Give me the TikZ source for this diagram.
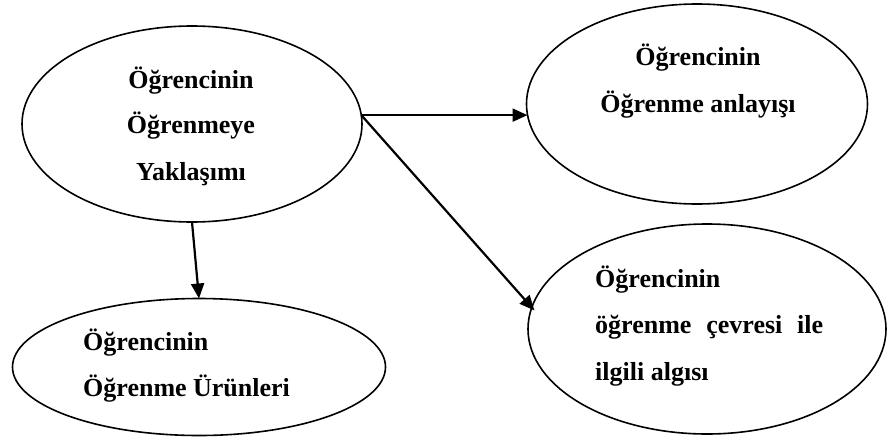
\documentclass[tikz,border=0pt]{standalone}
\usepackage{fontspec}
\setmainfont{Liberation Serif}
\usetikzlibrary{shapes.geometric,arrows.meta}

\tikzset{
  oval/.style={draw=black, line width=1.6pt, ellipse, inner sep=0pt, outer sep=0pt},
  txt/.style={inner sep=0pt, font=\fontsize{26}{30}\selectfont\bfseries},
  link/.style={line width=2.2pt, -{Triangle[length=15pt,width=13pt]}},
}

\begin{document}
\begin{tikzpicture}[x=1pt, y=-1pt]
  \useasboundingbox (0,0) rectangle (889,437);

  % the four concepts
  \node[oval, minimum width=340pt, minimum height=196pt] (e1) at (192,124) {};
  \node[oval, minimum width=341pt, minimum height=200pt] (e2) at (697,104) {};
  \node[oval, minimum width=373pt, minimum height=137pt] (e3) at (199,367) {};
  \node[oval, minimum width=358pt, minimum height=210pt] (e4) at (707,329) {};

  % labels, one line per node
  \node[txt, anchor=base] (t1a) at (191,88)  {Öğrencinin};
  \node[txt, anchor=base] (t1b) at (191,133) {Öğrenmeye};
  \node[txt, anchor=base] (t1c) at (191,180) {Yaklaşımı};

  \node[txt, anchor=base] (t2a) at (698,65)  {Öğrencinin};
  \node[txt, anchor=base] (t2b) at (698,112) {Öğrenme anlayışı};

  \node[txt, anchor=base west] (t3a) at (83,350) {Öğrencinin};
  \node[txt, anchor=base west] (t3b) at (83,396) {Öğrenme Ürünleri};

  \node[txt, anchor=base west] (t4a) at (595,287) {Öğrencinin};
  \node[txt, anchor=base west] (t4b) at (595,333) {\makebox[228pt][s]{öğrenme\hfill çevresi\hfill ile}};
  \node[txt, anchor=base west] (t4c) at (595,380) {ilgili algısı};

  % relations
  \draw[link] (e1.3) -- ([xshift=1pt]e1.3 -| e2.west);
  \draw[link, shorten >=-4pt] (e1.3) -- (e4.173);
  \draw[link] (e1.south) -- (e3.north);
\end{tikzpicture}
\end{document}
